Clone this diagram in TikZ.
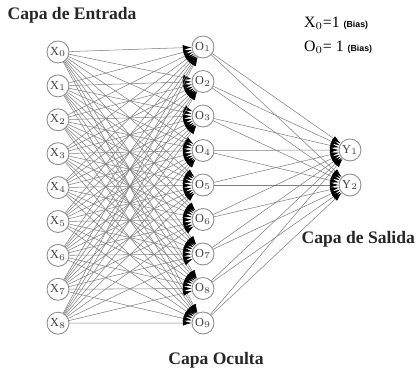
\documentclass[tikz,border=0pt]{standalone}
\usepackage{fontspec}
\setmainfont{Liberation Serif}
\setsansfont{Liberation Sans}
\usetikzlibrary{arrows.meta}
\begin{document}
\begin{tikzpicture}[
  x=0.02cm, y=-0.02cm,
  neurona/.style={circle, draw=black!45, line width=0.5pt, inner sep=0pt, minimum size=4.4mm, font=\scriptsize, text=black!75},
  conexion/.style={draw=black!50, line width=0.3pt, -{Latex[length=5pt, width=3pt, black]}},
  titulo/.style={font=\bfseries, text=black!85}
]
  \useasboundingbox (0,0) rectangle (417,371);

  % --- Capa de entrada ---
  \foreach \i in {0,...,8}
    \node[neurona] (x\i) at (58, {52+33.9*\i}) {X$_{\i}$};

  % --- Capa oculta ---
  \foreach \j in {1,...,9}
    \node[neurona] (o\j) at (203, {47+34.5*(\j-1)}) {O$_{\j}$};

  % --- Capa de salida ---
  \node[neurona] (y1) at (350, 150) {Y$_1$};
  \node[neurona] (y2) at (350, 185) {Y$_2$};

  % --- Conexiones ---
  \foreach \i in {0,...,8}
    \foreach \j in {1,...,9}
      \draw[conexion] (x\i) -- (o\j);
  \foreach \j in {1,...,9}
    \foreach \k in {1,2}
      \draw[conexion] (o\j) -- (y\k);

  % --- Textos ---
  \node[titulo] (entrada) at (72, 15) {Capa de Entrada};
  \node[titulo] (oculta) at (216, 360) {Capa Oculta};
  \node[titulo, anchor=east, inner xsep=1pt] (salida) at (417, 239) {Capa de Salida};
  \node[anchor=west, font=\small] (bias1) at (298, 23) {X$_0$=1 {\fontsize{5}{6}\sffamily\bfseries (Bias)}};
  \node[anchor=west, font=\small] (bias2) at (298, 47) {O$_0$= 1 {\fontsize{5}{6}\sffamily\bfseries (Bias)}};

\end{tikzpicture}
\end{document}
